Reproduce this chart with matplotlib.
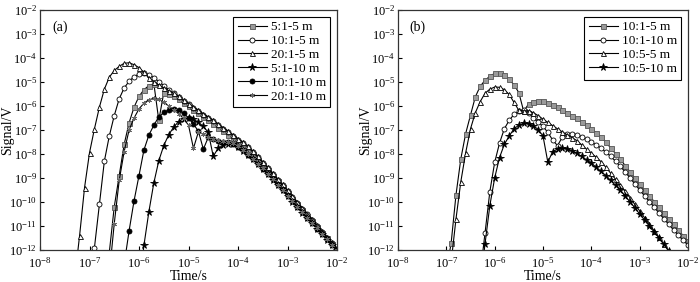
import matplotlib
matplotlib.use('Agg')
import matplotlib.pyplot as plt
import numpy as np

plt.rcParams['font.family'] = ['Liberation Serif', 'DejaVu Serif']
plt.rcParams['mathtext.fontset'] = 'stix'

# log10(time) grid shared by every curve (10 points per decade)
log_t = [-7.3, -7.2, -7.1, -7.0, -6.9, -6.8, -6.7, -6.6, -6.5, -6.4,
         -6.3, -6.2, -6.1, -6.0, -5.9, -5.8, -5.7, -5.6, -5.5, -5.4,
         -5.3, -5.2, -5.1, -5.0, -4.9, -4.8, -4.7, -4.6, -4.5, -4.4,
         -4.3, -4.2, -4.1, -4.0, -3.9, -3.8, -3.7, -3.6, -3.5, -3.4,
         -3.3, -3.2, -3.1, -3.0, -2.9, -2.8, -2.7, -2.6, -2.5, -2.4,
         -2.3, -2.2, -2.1, -2.0]

# ---- panel (a): log10(signal), each list starts at the given log10(t)
a_labels = ['5:1-5 m', '10:1-5 m', '20:1-5 m', '5:1-10 m', '10:1-10 m', '20:1-10 m']
a_start = [-6.7, -7.0, -7.3, -6.0, -6.3, -6.6]

a_5_1_5 = [-13.6, -12.1, -10.2, -8.9, -7.6, -6.7, -6.05, -5.6, -5.32, -5.15,
           -5.07, -6.6, -5.45, -5.5, -5.6, -5.72, -5.86, -6.0, -6.15, -6.3,
           -6.45, -6.6, -6.75, -6.9, -7.05, -7.2, -7.35, -7.5, -7.66, -7.83,
           -8.02, -8.23, -8.45, -8.68, -8.91, -9.14, -9.38, -9.62, -9.86, -10.1,
           -10.34, -10.57, -10.8, -11.04, -11.28, -11.52, -11.76, -12.0]
a_10_1_5 = [-13.6, -11.9, -10.1, -8.3, -7.25, -6.4, -5.7, -5.25, -4.97, -4.78,
            -4.67, -4.63, -4.7, -4.82, -4.98, -5.15, -5.32, -5.47, -5.62, -5.78,
            -5.93, -6.08, -6.22, -6.36, -6.5, -6.64, -6.78, -6.94, -7.09, -7.24,
            -7.4, -7.56, -7.72, -7.92, -8.14, -8.36, -8.59, -8.83, -9.07, -9.31,
            -9.55, -9.79, -10.04, -10.28, -10.52, -10.76, -11.0, -11.24, -11.48, -11.72,
            -11.96]
a_20_1_5 = [-13.2, -11.4, -9.4, -7.95, -6.95, -6.05, -5.3, -4.8, -4.52, -4.35,
            -4.22, -4.2, -4.28, -4.4, -4.6, -4.82, -5.0, -5.12, -5.24, -5.36,
            -5.47, -5.6, -5.76, -5.9, -6.04, -6.18, -6.32, -6.46, -6.6, -6.74,
            -6.9, -7.05, -7.2, -7.36, -7.52, -7.68, -7.88, -8.1, -8.32, -8.55,
            -8.79, -9.03, -9.27, -9.51, -9.75, -10.0, -10.24, -10.48, -10.72, -10.96,
            -11.2, -11.44, -11.68, -11.92]
a_5_1_10 = [-13.5, -11.8, -10.4, -9.2, -8.28, -7.65, -7.2, -6.88, -6.65, -6.53,
            -6.5, -6.55, -6.68, -6.85, -7.1, -8.1, -7.75, -7.64, -7.58, -7.6,
            -7.7, -7.86, -8.04, -8.22, -8.42, -8.62, -8.84, -9.07, -9.3, -9.52,
            -9.75, -9.98, -10.21, -10.44, -10.67, -10.89, -11.12, -11.34, -11.57, -11.8,
            -12.02]
a_10_1_10 = [-12.6, -11.2, -9.95, -8.9, -7.83, -7.21, -6.8, -6.45, -6.27, -6.17,
             -6.12, -6.18, -6.3, -6.5, -6.75, -7.05, -7.8, -7.3, -7.38, -7.45,
             -7.48, -7.51, -7.57, -7.69, -7.85, -8.03, -8.21, -8.41, -8.61, -8.83,
             -9.06, -9.29, -9.51, -9.74, -9.97, -10.2, -10.43, -10.66, -10.88, -11.11,
             -11.33, -11.56, -11.79, -12.01]
a_20_1_10 = [-13.0, -10.9, -9.1, -7.9, -7.0, -6.5, -6.12, -5.88, -5.74, -5.68,
             -5.72, -5.85, -6.0, -6.15, -6.32, -6.52, -6.8, -7.76, -7.08, -7.18,
             -7.28, -7.36, -7.43, -7.47, -7.5, -7.56, -7.68, -7.84, -8.02, -8.2,
             -8.4, -8.6, -8.82, -9.05, -9.28, -9.5, -9.73, -9.96, -10.19, -10.42,
             -10.65, -10.87, -11.1, -11.32, -11.55, -11.78, -12.0]
a_series = [a_5_1_5, a_10_1_5, a_20_1_5, a_5_1_10, a_10_1_10, a_20_1_10]

# ---- panel (b)
b_labels = ['10:1-5 m', '10:1-10 m', '10:5-5 m', '10:5-10 m']
b_start = [-7.0, -6.3, -7.0, -6.3]

b_10_1_5 = [-12.9, -11.7, -9.7, -8.2, -7.15, -6.38, -5.62, -5.18, -4.93, -4.76,
            -4.64, -4.64, -4.72, -4.88, -5.12, -5.44, -6.22, -5.92, -5.83, -5.78,
            -5.8, -5.87, -5.95, -6.05, -6.16, -6.28, -6.4, -6.52, -6.66, -6.8,
            -6.95, -7.12, -7.3, -7.5, -7.75, -7.98, -8.22, -8.48, -8.74, -9.0,
            -9.26, -9.5, -9.74, -9.98, -10.22, -10.46, -10.7, -10.93, -11.17, -11.4,
            -11.63]
b_10_1_10 = [-13.0, -11.3, -9.57, -8.35, -7.55, -6.95, -6.6, -6.35, -6.22, -6.17,
             -6.3, -6.5, -6.68, -6.85, -7.1, -7.42, -7.65, -7.3, -7.18, -7.15,
             -7.2, -7.28, -7.38, -7.5, -7.62, -7.76, -7.92, -8.1, -8.3, -8.52,
             -8.75, -9.0, -9.25, -9.5, -9.74, -9.98, -10.22, -10.46, -10.7, -10.93,
             -11.16, -11.39, -11.6, -11.8]
b_10_5_5 = [-13.5, -12.5, -10.7, -9.15, -7.95, -6.95, -6.28, -5.82, -5.47, -5.3,
            -5.21, -5.22, -5.32, -5.52, -5.85, -6.18, -6.2, -6.2, -6.28, -6.4,
            -6.55, -6.68, -6.82, -6.95, -7.08, -7.2, -7.32, -7.44, -7.62, -7.8,
            -7.97, -8.13, -8.32, -8.55, -8.8, -9.05, -9.3, -9.55, -9.82, -10.1,
            -10.37, -10.65, -10.92, -11.2, -11.47, -11.75, -12.02, -12.3]
b_10_5_10 = [-13.5, -11.75, -10.15, -9.0, -8.15, -7.6, -7.25, -6.95, -6.8, -6.72,
             -6.74, -6.82, -6.98, -7.25, -8.34, -7.9, -7.8, -7.77, -7.78, -7.86,
             -7.97, -8.1, -8.24, -8.38, -8.55, -8.72, -8.9, -9.1, -9.3, -9.52,
             -9.75, -9.99, -10.24, -10.5, -10.75, -11.0, -11.25, -11.5, -11.77, -12.05,
             -12.3]
b_series = [b_10_1_5, b_10_1_10, b_10_5_5, b_10_5_10]

# marker styles: (marker, face, edge)
styles = {
    '5:1-5 m': ('s', '#9a9a9a', '#555555'),
    '10:1-5 m': ('o', 'white', 'black'),
    '20:1-5 m': ('^', 'white', 'black'),
    '5:1-10 m': ('*', 'black', 'black'),
    '10:1-10 m': ('o', 'black', 'black'),
    '20:1-10 m': ((6, 2, 0), '#666666', '#666666'),
    '10:1-10 m b': ('o', 'white', 'black'),
    '10:1-5 m b': ('s', '#9a9a9a', '#555555'),
    '10:5-5 m': ('^', 'white', 'black'),
    '10:5-10 m': ('*', 'black', 'black'),
}


def draw(ax, labels, starts, series, tag, suffix=''):
    for lab, t0, vals in zip(labels, starts, series):
        i0 = log_t.index(t0)
        t = 10.0 ** np.array(log_t[i0:i0 + len(vals)])
        v = 10.0 ** np.array(vals)
        key = lab + suffix if (lab + suffix) in styles else lab
        m, fc, ec = styles[key]
        ms = 5.5 if m == '*' else 3.6
        ax.plot(t, v, color='black', lw=0.8, marker=m, ms=ms,
                mfc=fc, mec=ec, mew=0.6, label=lab)
    ax.set_xscale('log')
    ax.set_yscale('log')
    ax.set_xlim(1e-8, 1e-2)
    ax.set_ylim(1e-12, 1e-2)
    ax.set_xticks([10.0 ** k for k in range(-8, -1)])
    ax.set_yticks([10.0 ** k for k in range(-12, -1)])
    ax.minorticks_off()
    ax.tick_params(direction='in', length=3, labelsize=9, pad=2,
                   top=False, right=False)
    ax.tick_params(axis='x', pad=4)
    for s in ax.spines.values():
        s.set_color('#333333')
        s.set_linewidth(0.9)
    ax.set_xlabel('Time/s', fontsize=10, labelpad=0)
    ax.set_ylabel('Signal/V', fontsize=10)
    ax.yaxis.set_label_coords(-0.088, 0.5)
    ax.text(0.04, 0.93, tag, transform=ax.transAxes, fontsize=10, va='center')
    leg = ax.legend(loc='upper right', fontsize=9.5, handlelength=2.2,
                    labelspacing=0.12, borderpad=0.35, handletextpad=0.3,
                    fancybox=False, framealpha=1, borderaxespad=0.5)
    leg.get_frame().set_edgecolor('black')
    leg.get_frame().set_linewidth(0.8)


fig = plt.figure(figsize=(7.0, 2.82), dpi=100)
ax_a = fig.add_axes([40 / 700, 32 / 282, 297 / 700, 240 / 282])
ax_b = fig.add_axes([398 / 700, 32 / 282, 290 / 700, 240 / 282])

draw(ax_a, a_labels, a_start, a_series, '(a)')
draw(ax_b, b_labels, b_start, b_series, '(b)', suffix=' b')

fig.savefig('out.png', dpi=100)
